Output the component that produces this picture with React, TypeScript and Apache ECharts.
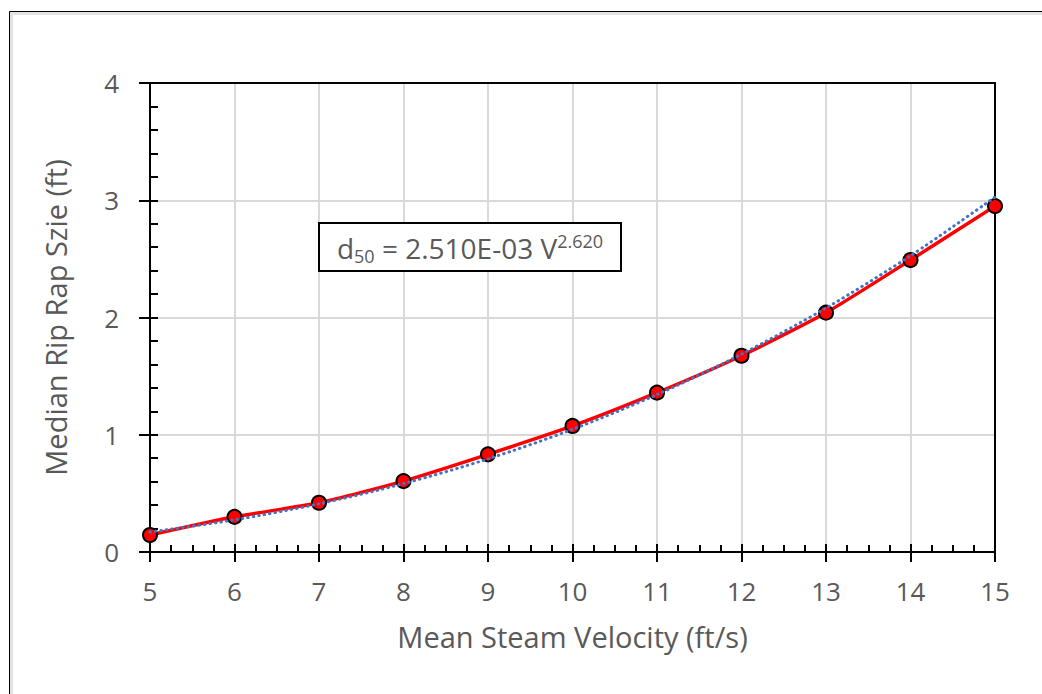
import React, { useEffect, useRef } from "react";
import * as echarts from "echarts";

// Mean stream velocity (ft/s) and the median rip rap size (ft) computed for each
const velocity = [5, 6, 7, 8, 9, 10, 11, 12, 13, 14, 15];
const d50 = [0.145, 0.3, 0.42, 0.605, 0.833, 1.075, 1.359, 1.674, 2.041, 2.49, 2.95];

// Power-law trendline coefficients, as printed in the equation box
const trendCoef = 2.51e-3;
const trendExp = 2.62;

const xTitle = "Mean Steam Velocity (ft/s)";
const yTitle = "Median Rip Rap Szie (ft)";

const FONT = "'Open Sans', sans-serif";
const GREY = "#595959";

export default function App() {
  const ref = useRef<HTMLDivElement>(null);

  useEffect(() => {
    document.body.style.margin = "0";
    const chart = echarts.init(ref.current!, null, { renderer: "svg" });

    const trend = velocity.map((v) => [v, trendCoef * Math.pow(v, trendExp)]);
    const measured = velocity.map((v, i) => [v, d50[i]]);

    const baseX = { type: "value", min: 5, max: 15, interval: 1, gridIndex: 0 };
    const baseY = { type: "value", min: 0, max: 4, interval: 1, gridIndex: 0 };
    const black = { color: "#000", width: 2 };

    chart.setOption({
      animation: false,
      grid: { left: 150, right: 47, top: 83, bottom: 142, containLabel: false },
      xAxis: [
        {
          ...baseX,
          position: "bottom",
          name: xTitle,
          nameLocation: "middle",
          nameGap: 70,
          nameTextStyle: { color: GREY, fontSize: 29, fontFamily: FONT },
          axisLine: { show: true, onZero: false, lineStyle: black },
          axisTick: { show: true, inside: true, length: 8, lineStyle: black },
          minorTick: { show: true, splitNumber: 4, length: 7, lineStyle: black },
          axisLabel: { color: GREY, fontSize: 26, fontFamily: FONT, margin: 26 },
          splitLine: { show: true, lineStyle: { color: "#d9d9d9", width: 2 } },
        },
        {
          ...baseX,
          position: "bottom",
          axisLine: { show: false },
          axisTick: { show: true, inside: false, length: 10, lineStyle: black },
          axisLabel: { show: false },
          splitLine: { show: false },
        },
        {
          ...baseX,
          position: "top",
          axisLine: { show: true, onZero: false, lineStyle: black },
          axisTick: { show: false },
          axisLabel: { show: false },
          splitLine: { show: false },
        },
      ],
      yAxis: [
        {
          ...baseY,
          position: "left",
          name: yTitle,
          nameLocation: "middle",
          nameGap: 80,
          nameTextStyle: { color: GREY, fontSize: 29, fontFamily: FONT },
          axisLine: { show: true, onZero: false, lineStyle: black },
          axisTick: { show: true, inside: true, length: 8, lineStyle: black },
          minorTick: { show: true, splitNumber: 5, length: 8, lineStyle: black },
          axisLabel: { color: GREY, fontSize: 26, fontFamily: FONT, margin: 31 },
          splitLine: { show: true, lineStyle: { color: "#d9d9d9", width: 2 } },
        },
        {
          ...baseY,
          position: "left",
          axisLine: { show: false },
          axisTick: { show: true, inside: false, length: 11, lineStyle: black },
          axisLabel: { show: false },
          splitLine: { show: false },
        },
        {
          ...baseY,
          position: "right",
          axisLine: { show: true, onZero: false, lineStyle: black },
          axisTick: { show: false },
          axisLabel: { show: false },
          splitLine: { show: false },
        },
      ],
      series: [
        {
          name: "d50",
          type: "line",
          xAxisIndex: 0,
          yAxisIndex: 0,
          data: measured,
          smooth: 0.2,
          lineStyle: { color: "#ff0000", width: 3.5 },
          symbol: "circle",
          symbolSize: 14,
          itemStyle: { color: "#ff0000", borderColor: "#000", borderWidth: 2 },
          z: 3,
        },
        {
          name: "Power trend",
          type: "line",
          xAxisIndex: 0,
          yAxisIndex: 0,
          data: trend,
          smooth: 0.3,
          showSymbol: false,
          symbol: "none",
          lineStyle: { color: "#4472c4", width: 3, type: [0.5, 5], cap: "round" },
          z: 4,
        },
      ],
      graphic: [
        // chart-area frame
        {
          type: "rect",
          shape: { x: 9.5, y: 11.5, width: 2000, height: 2000 },
          style: { fill: "none", stroke: "#000", lineWidth: 1 },
          silent: true,
        },
        {
          type: "rect",
          shape: { x: 11.5, y: 13.5, width: 2000, height: 2000 },
          style: { fill: "none", stroke: "#e3e3e3", lineWidth: 3 },
          silent: true,
        },
        // equation box
        {
          type: "rect",
          shape: { x: 319, y: 223, width: 302, height: 48 },
          style: { fill: "#fff", stroke: "#000", lineWidth: 2 },
          z: 10,
        },
        {
          type: "text",
          x: 470,
          y: 248,
          z: 11,
          style: {
            text: "d{sub|50} = 2.510E-03 V{sup|2.620}",
            fill: GREY,
            fontSize: 28,
            fontFamily: FONT,
            align: "center",
            verticalAlign: "middle",
            rich: {
              sub: { fontSize: 18, fill: GREY, fontFamily: FONT, verticalAlign: "bottom", padding: [15, 0, 0, 0] },
              sup: { fontSize: 18, fill: GREY, fontFamily: FONT, verticalAlign: "top", padding: [0, 0, 15, 0] },
            },
          },
        },
      ],
    });

    return () => chart.dispose();
  }, []);

  return <div ref={ref} style={{ width: 1042, height: 694, overflow: "hidden" }} />;
}
